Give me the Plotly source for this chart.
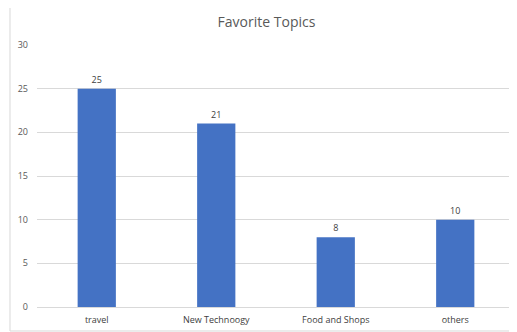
import plotly.graph_objects as go

categories = ['travel', 'New Technoogy', 'Food and Shops', 'others']
values = [25, 21, 8, 10]
y_ticks = [0, 5, 10, 15, 20, 25, 30]

BAR = '#4472C4'
GRID = '#d9d9d9'
TEXT = '#595959'
FONT = 'Open Sans'

fig = go.Figure(go.Bar(
    x=categories, y=values, marker_color=BAR, marker_line_width=0,
    text=[str(v) for v in values], textposition='outside',
    textfont=dict(size=9, color='#404040', family=FONT), cliponaxis=False,
))

# page body has an 8px default margin, so the margins are offset by that
fig.update_layout(
    width=517, height=332,
    margin=dict(l=29, r=10, t=37, b=33, autoexpand=False),
    paper_bgcolor='white', plot_bgcolor='white',
    bargap=0.68, showlegend=False,
    title=dict(text='Favorite Topics', x=0.5, xanchor='center', y=0.958, yanchor='middle',
               font=dict(size=14, color=TEXT, family=FONT)),
    font=dict(family=FONT, size=9, color=TEXT),
)
fig.update_yaxes(range=[0, 30], tickvals=y_ticks, showgrid=True, gridcolor=GRID, gridwidth=1,
                 zeroline=False, ticks='', ticklabelstandoff=8, tickfont=dict(size=9, color=TEXT))
fig.update_xaxes(showline=True, linecolor=GRID, linewidth=1, ticks='', ticklabelstandoff=4,
                 tickfont=dict(size=9, color='#404040'))

# chart frame
fig.add_shape(type='rect', xref='paper', yref='paper',
              x0=-0.0565, x1=1.002, y0=-0.0916, y1=1.156,
              line=dict(color='#d9d9d9', width=1), layer='below')

fig.write_html('out.html')
